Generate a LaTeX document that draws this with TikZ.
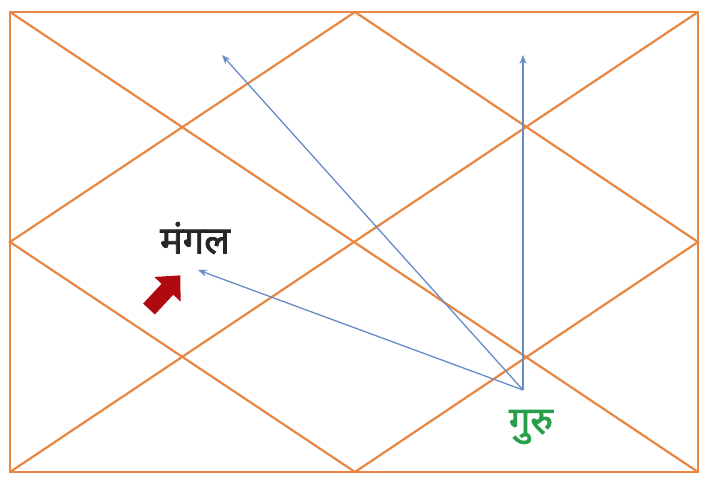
\documentclass[tikz,border=0pt]{standalone}
\usepackage{fontspec}
\newfontfamily\deva[Script=Devanagari,AutoFakeBold=2]{Noto Sans}
\usetikzlibrary{arrows.meta}
\definecolor{grid}{RGB}{232,135,65}
\definecolor{ray}{RGB}{105,140,200}
\definecolor{mars}{RGB}{175,10,15}
\definecolor{jup}{RGB}{40,160,75}
\tikzset{
  gridline/.style={draw=grid,line width=2.2pt},
  rayline/.style={draw=ray,line width=1.3pt,-{Stealth[length=9pt,width=7pt]}},
  devtext/.style={font=\deva\bfseries\fontsize{38}{42}\selectfont,inner sep=0pt}
}
\begin{document}
\begin{tikzpicture}[x=1pt,y=-1pt]
\useasboundingbox (0,0) rectangle (712,482);
\fill[white] (0,0) rectangle (712,482);
% grid
\coordinate (TL) at (10,12);
\coordinate (TR) at (698,12);
\coordinate (BL) at (10,472);
\coordinate (BR) at (698,472);
\coordinate (T) at (355,12);
\coordinate (B) at (355,472);
\coordinate (L) at (10,242);
\coordinate (R) at (698,242);
\draw[gridline] (TL) rectangle (BR);
\draw[gridline] (TL) -- (BR);
\draw[gridline] (TR) -- (BL);
\draw[gridline] (T) -- (R) -- (B) -- (L) -- cycle;
% labels
\node[devtext,text=black!85] (mangal) at (195,238) {मंगल};
\node[devtext,text=jup] (guru) at (531,427) {गुरु};
% rays
\coordinate (G) at (523,390);
\coordinate (A1) at (222,55);
\coordinate (A2) at (523,55);
\coordinate (A3) at (198,270);
\draw[rayline] (G) -- (A1);
\draw[rayline] (G) -- (A2);
\draw[rayline] (G) -- (A3);
% red block arrow
\begin{scope}[shift={(149,309)},rotate=47]
\fill[mars] (0,-8) -- (27,-8) -- (27,-18) -- (46,0) -- (27,18) -- (27,8) -- (0,8) -- cycle;
\end{scope}
\end{tikzpicture}
\end{document}
